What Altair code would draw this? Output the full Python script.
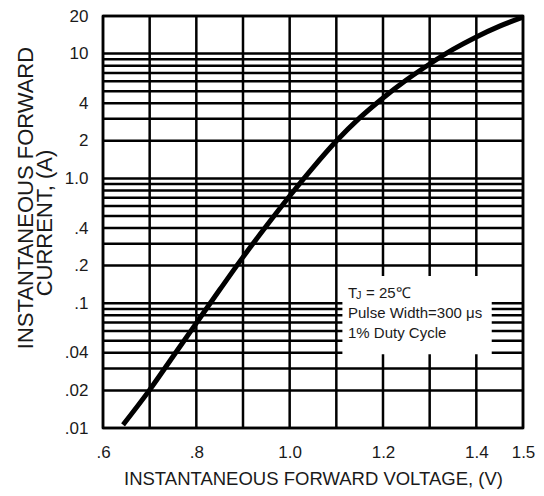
import altair as alt
import pandas as pd

# ---- data ----
voltage = [0.643, 0.70, 0.75, 0.80, 0.85, 0.90, 0.95, 1.00, 1.05, 1.10,
           1.15, 1.20, 1.25, 1.30, 1.35, 1.40, 1.45, 1.50]
current = [0.0106, 0.0202, 0.0374, 0.0693, 0.128, 0.234, 0.415, 0.722, 1.22, 1.99,
           3.05, 4.41, 6.14, 8.25, 10.8, 13.6, 16.6, 19.6]

x_ticks = [0.6, 0.8, 1.0, 1.2, 1.4, 1.5]
x_labels = [".6", ".8", "1.0", "1.2", "1.4", "1.5"]
y_ticks = [20, 10, 4, 2, 1, 0.4, 0.2, 0.1, 0.04, 0.02, 0.01]
y_labels = ["20", "10", "4", "2", "1.0", ".4", ".2", ".1", ".04", ".02", ".01"]

grid_v = [0.6, 0.7, 0.8, 0.9, 1.0, 1.1, 1.2, 1.3, 1.4, 1.5]
grid_i = [0.01, 0.02, 0.03, 0.04, 0.05, 0.06, 0.07, 0.08, 0.09,
          0.1, 0.2, 0.3, 0.4, 0.5, 0.6, 0.7, 0.8, 0.9,
          1, 2, 3, 4, 5, 6, 7, 8, 9, 10, 20]

x_title = "INSTANTANEOUS FORWARD VOLTAGE, (V)"
y_title = ["INSTANTANEOUS FORWARD", "CURRENT, (A)"]
note_lines = ["Pulse Width=300 \u03bcs", "1% Duty Cycle"]
note_box = {"V": 1.113, "V2": 1.433, "I": 0.165, "I2": 0.039}

FONT = "Liberation Sans, Arial, Helvetica, sans-serif"
INK = "#1a1a1a"


def label_expr(vals, labels):
    expr = "''"
    for v, l in reversed(list(zip(vals, labels))):
        expr = f"abs(datum.value / {v} - 1) < 0.001 ? '{l}' : ({expr})"
    return expr


xs = alt.Scale(domain=[0.6, 1.5], nice=False, zero=False)
ys = alt.Scale(type="log", domain=[0.01, 20], nice=False)

x_axis = alt.Axis(values=x_ticks, labelExpr=label_expr(x_ticks, x_labels),
                  title=x_title,
                  grid=False, ticks=False, domain=False,
                  labelFont=FONT, labelFontSize=17, labelColor=INK,
                  labelPadding=16, labelOverlap=False, labelFlush=False,
                  titleFont=FONT, titleFontSize=18.5, titleFontWeight="normal",
                  titleColor=INK, titlePadding=9)
y_axis = alt.Axis(values=y_ticks, labelExpr=label_expr(y_ticks, y_labels),
                  title=None,
                  grid=False, ticks=False, domain=False,
                  labelFont=FONT, labelFontSize=17, labelColor=INK,
                  labelPadding=15, labelOverlap=False, labelFlush=False)

X = alt.X("V:Q", scale=xs, axis=x_axis)
Y = alt.Y("I:Q", scale=ys, axis=y_axis)

curve_df = pd.DataFrame({"V": voltage, "I": current})
vgrid_df = pd.DataFrame({"V": grid_v})
hgrid_df = pd.DataFrame({"I": grid_i})
box_df = pd.DataFrame([note_box])

# positions of the note text (data units)
note_x = 1.125
note_y = [0.1206, 0.0834, 0.0577]

vgrid = alt.Chart(vgrid_df).mark_rule(color="black", strokeWidth=2.5).encode(x=X)
hgrid = alt.Chart(hgrid_df).mark_rule(color="black", strokeWidth=2.5).encode(y=Y)
box = alt.Chart(box_df).mark_rect(fill="white").encode(
    x=X, x2="V2:Q", y=Y, y2="I2:Q")

t_df = pd.DataFrame({"V": [note_x], "I": [note_y[0]]})
txt_T = alt.Chart(t_df).mark_text(text="T", align="left", baseline="middle",
                                  font=FONT, fontSize=15, color=INK).encode(x=X, y=Y)
txt_J = alt.Chart(t_df).mark_text(text="J", align="left", baseline="middle",
                                  font=FONT, fontSize=11, color=INK, dx=8, dy=3).encode(x=X, y=Y)
txt_25 = alt.Chart(t_df).mark_text(text="= 25\u2103", align="left", baseline="middle",
                                   font=FONT, fontSize=15, color=INK, dx=18).encode(x=X, y=Y)
lines_df = pd.DataFrame({"V": [note_x, note_x], "I": note_y[1:], "t": note_lines})
txt_lines = alt.Chart(lines_df).mark_text(align="left", baseline="middle",
                                          font=FONT, fontSize=15, color=INK).encode(
    x=X, y=Y, text="t:N")

# y-axis title, two lines (second centred on the plot, first shifted upward)
ytitle1 = alt.Chart(pd.DataFrame({"t": [y_title[0]]})).mark_text(
    angle=270, align="center", baseline="middle", font=FONT, fontSize=22,
    color=INK).encode(text="t:N", x=alt.value(-77), y=alt.value(182))
ytitle2 = alt.Chart(pd.DataFrame({"t": [y_title[1]]})).mark_text(
    angle=270, align="center", baseline="middle", font=FONT, fontSize=22,
    color=INK).encode(text="t:N", x=alt.value(-58), y=alt.value(207))

curve = alt.Chart(curve_df).mark_line(color="black", strokeWidth=5,
                                      interpolate="monotone", strokeCap="butt").encode(x=X, y=Y)

chart = alt.layer(vgrid, hgrid, box, txt_T, txt_J, txt_25, txt_lines,
                  ytitle1, ytitle2, curve).properties(
    width=420, height=412,
    autosize=alt.AutoSizeParams(type="none"),
    padding={"left": 95, "top": 8, "right": 13, "bottom": 68},
).configure_view(stroke="black", strokeWidth=2.5)

chart.save("out.html", embed_options={"renderer": "svg", "actions": False})
